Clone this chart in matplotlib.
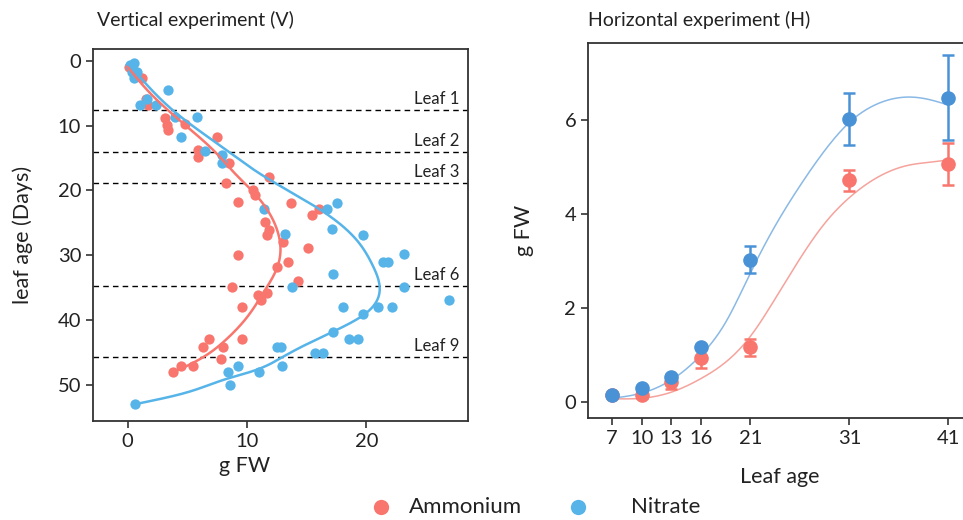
import numpy as np
import matplotlib
matplotlib.use("Agg")
import matplotlib.pyplot as plt
from matplotlib.lines import Line2D

plt.rcParams['font.family'] = ['Lato', 'DejaVu Sans']

RED = "#F8766D"
BLUE = "#56B4E9"
BLUE_H = "#4A92D6"
RED_CURVE_H = "#F5A39C"
BLUE_CURVE_H = "#8AB9E6"
TXT = "#222222"

# ---------------- Vertical experiment data (x = g FW, y = leaf age days)
amm_fw = [0.1, 0.4, 1.2, 1.5, 1.7, 3.1, 3.3, 3.4, 4.8, 7.5, 5.9, 5.9, 8.5, 8.2, 10.5,
          10.7, 11.8, 9.2, 13.7, 16.0, 15.4, 11.5, 11.8, 11.7, 13.0, 15.1, 9.2, 13.4,
          12.5, 14.3, 8.7, 10.9, 11.7, 11.2, 9.6, 9.6, 6.8, 6.3, 8.0, 7.8, 5.5, 4.5, 3.8]
amm_age = [0.9, 1.0, 2.7, 5.8, 6.8, 8.8, 9.9, 10.7, 9.7, 11.8, 13.8, 14.9, 15.8, 18.9, 19.9,
           20.7, 17.9, 21.8, 21.9, 22.9, 23.8, 24.9, 26.1, 26.9, 28.0, 28.9, 29.9, 31.1,
           31.8, 34.0, 34.9, 36.2, 35.9, 36.9, 38.0, 43.0, 42.9, 44.2, 44.2, 46.0, 47.1, 47.1, 48.1]

nit_fw = [0.2, 0.5, 0.4, 0.8, 0.5, 3.4, 1.6, 1.0, 2.4, 4.0, 5.8, 4.5, 6.5, 7.9, 7.9,
          11.4, 16.7, 17.5, 13.2, 17.1, 19.7, 21.4, 21.8, 23.1, 17.2, 13.8, 23.1, 26.9,
          18.0, 21.0, 22.1, 19.7, 17.2, 18.5, 19.3, 12.5, 12.8, 15.7, 16.4, 12.9, 11.0,
          9.2, 8.4, 8.6, 0.6]
nit_age = [0.6, 0.3, 1.7, 1.7, 2.7, 4.5, 5.8, 6.8, 6.8, 8.7, 8.7, 11.7, 13.9, 14.5, 15.8,
           22.8, 22.8, 21.9, 26.7, 26.0, 26.8, 31.0, 31.0, 29.8, 32.9, 34.9, 34.9, 36.9,
           38.0, 38.0, 38.0, 39.1, 41.8, 43.0, 43.0, 44.1, 44.1, 45.1, 45.1, 47.1, 48.1,
           47.1, 48.1, 50.1, 53.0]

# smooth fit (age -> g FW)
amm_fit_age = [0.9, 5.0, 9.4, 14.0, 17.6, 20.0, 23.0, 26.0, 29.0, 32.0, 35.7, 39.8, 43.1, 46.2, 48.1]
amm_fit_fw = [0.0, 1.9, 4.5, 7.3, 9.1, 10.4, 11.7, 12.5, 12.8, 12.5, 11.4, 9.9, 8.2, 5.9, 3.8]
nit_fit_age = [0.4, 8.1, 14.0, 17.2, 23.3, 27.7, 31.5, 34.8, 39.3, 41.8, 44.2, 45.7, 48.0, 49.0, 51.4, 53.0]
nit_fit_fw = [0.07, 4.1, 8.45, 10.9, 16.4, 19.2, 20.5, 21.1, 19.7, 17.2, 14.5, 13.0, 10.3, 8.45, 4.54, 0.63]

leaf_labels = ["Leaf 1", "Leaf 2", "Leaf 3", "Leaf 6", "Leaf 9"]
leaf_age = [7.6, 14.1, 18.9, 34.8, 45.7]

# ---------------- Horizontal experiment data
h_age = [7, 10, 13, 16, 21, 31, 41]
h_amm = [0.15, 0.15, 0.43, 0.93, 1.17, 4.72, 5.06]
h_amm_err = [0.05, 0.06, 0.15, 0.2, 0.18, 0.22, 0.45]
h_nit = [0.15, 0.30, 0.53, 1.17, 3.03, 6.03, 6.48]
h_nit_err = [0.03, 0.04, 0.05, 0.05, 0.28, 0.55, 0.9]

h_fit_age = [7, 10, 13, 16, 18.5, 21, 23.5, 26, 28.5, 31, 34, 37, 39, 41]
h_amm_fit = [0.07, 0.08, 0.21, 0.5, 0.85, 1.4, 2.2, 3.05, 3.8, 4.35, 4.8, 5.04, 5.1, 5.15]
h_nit_fit = [0.08, 0.19, 0.47, 1.0, 1.7, 2.75, 3.75, 4.6, 5.35, 5.95, 6.36, 6.49, 6.44, 6.32]

legend_labels = ["Ammonium", "Nitrate"]


def spline(x, y, xs):
    x = np.asarray(x, float); y = np.asarray(y, float); xs = np.asarray(xs, float)
    n = len(x); h = np.diff(x)
    A = np.zeros((n, n)); b = np.zeros(n)
    A[0, 0] = A[-1, -1] = 1
    for i in range(1, n - 1):
        A[i, i - 1] = h[i - 1]; A[i, i] = 2 * (h[i - 1] + h[i]); A[i, i + 1] = h[i]
        b[i] = 3 * ((y[i + 1] - y[i]) / h[i] - (y[i] - y[i - 1]) / h[i - 1])
    c = np.linalg.solve(A, b)
    bc = (y[1:] - y[:-1]) / h - h * (2 * c[:-1] + c[1:]) / 3
    d = (c[1:] - c[:-1]) / (3 * h)
    idx = np.clip(np.searchsorted(x, xs) - 1, 0, n - 2)
    dx = xs - x[idx]
    return y[idx] + bc[idx] * dx + c[idx] * dx ** 2 + d[idx] * dx ** 3


fig = plt.figure(figsize=(9.63, 5.2), dpi=100)

SPINE = "#333333"
# ---------------- left panel
ax1 = fig.add_axes([93 / 963, 1 - 421 / 520, (468 - 93) / 963, (421 - 49) / 520])
ax1.scatter(amm_fw, amm_age, s=55, color=RED, zorder=3, linewidths=0)
ax1.scatter(nit_fw, nit_age, s=55, color=BLUE, zorder=3, linewidths=0)
ya = np.linspace(amm_fit_age[0], amm_fit_age[-1], 300)
ax1.plot(spline(amm_fit_age, amm_fit_fw, ya), ya, color=RED, lw=1.8, zorder=4)
yn = np.linspace(nit_fit_age[0], nit_fit_age[-1], 300)
ax1.plot(spline(nit_fit_age, nit_fit_fw, yn), yn, color=BLUE, lw=1.8, zorder=4)
for lab, a in zip(leaf_labels, leaf_age):
    ax1.axhline(a, color="black", lw=1, ls=(0, (4, 3)), zorder=2)
    ax1.text(27.8, a - 0.5, lab, ha="right", va="bottom", fontsize=12, color=TXT)
ax1.set_xlim(-2.9, 28.5)
ax1.set_ylim(55.6, -1.85)
ax1.set_xticks([0, 10, 20])
ax1.set_yticks([0, 10, 20, 30, 40, 50])
ax1.tick_params(labelsize=14.5, length=5, width=1.2, color=SPINE, labelcolor=TXT)
for s in ax1.spines.values():
    s.set_color(SPINE); s.set_linewidth(1.3)
ax1.set_xlabel("g FW", fontsize=15.5, color=TXT)
ax1.xaxis.set_label_coords((245 - 93) / 375, (421 - 456) / 372)
ax1.set_ylabel("leaf age (Days)", fontsize=15.5, color=TXT)
ax1.yaxis.set_label_coords((33 - 93) / 375, 0.5)
fig.text(97 / 963, 1 - 20 / 520, "Vertical experiment (V)", fontsize=14, va="center", ha="left", color=TXT)

# ---------------- right panel
ax2 = fig.add_axes([588 / 963, 1 - 418 / 520, (972 - 588) / 963, (418 - 43) / 520])
xa = np.linspace(7, 41, 300)
ax2.plot(xa, spline(h_fit_age, h_amm_fit, xa), color=RED_CURVE_H, lw=1.1, zorder=2)
ax2.plot(xa, spline(h_fit_age, h_nit_fit, xa), color=BLUE_CURVE_H, lw=1.1, zorder=2)
ax2.errorbar(h_age, h_amm, yerr=h_amm_err, fmt="o", color=RED, ms=9.5, capsize=4.5,
             elinewidth=1.8, capthick=1.8, mec=RED, zorder=3)
ax2.errorbar(h_age, h_nit, yerr=h_nit_err, fmt="o", color=BLUE_H, ms=9.5, capsize=4.5,
             elinewidth=1.8, capthick=1.8, mec=BLUE_H, zorder=4)
ax2.set_xlim(4.57, 43.4)
ax2.set_ylim(-0.34, 7.64)
ax2.set_xticks(h_age)
ax2.set_yticks([0, 2, 4, 6])
ax2.tick_params(labelsize=14.5, length=5, width=1.2, color=SPINE, labelcolor=TXT)
for s in ax2.spines.values():
    s.set_color(SPINE); s.set_linewidth(1.3)
ax2.set_xlabel("Leaf age", fontsize=15.5, color=TXT)
ax2.xaxis.set_label_coords(0.5, (418 - 467) / 375)
ax2.set_ylabel("g FW", fontsize=15.5, color=TXT)
ax2.yaxis.set_label_coords((534 - 588) / 384, 0.5)
fig.text(588 / 963, 1 - 20 / 520, "Horizontal experiment (H)", fontsize=14, va="center", ha="left", color=TXT)

# ---------------- legend (manual placement)
leg_y = 1 - 507 / 520
for col, lab, mx, tx in zip([RED, BLUE], legend_labels, [381, 578], [409, 631]):
    fig.add_artist(Line2D([mx / 963], [leg_y], transform=fig.transFigure, marker="o", ls="",
                          color=col, ms=11, mew=0))
    fig.text(tx / 963, leg_y, lab, fontsize=16, va="center", ha="left", color=TXT)

fig.savefig("out.png", dpi=100)
